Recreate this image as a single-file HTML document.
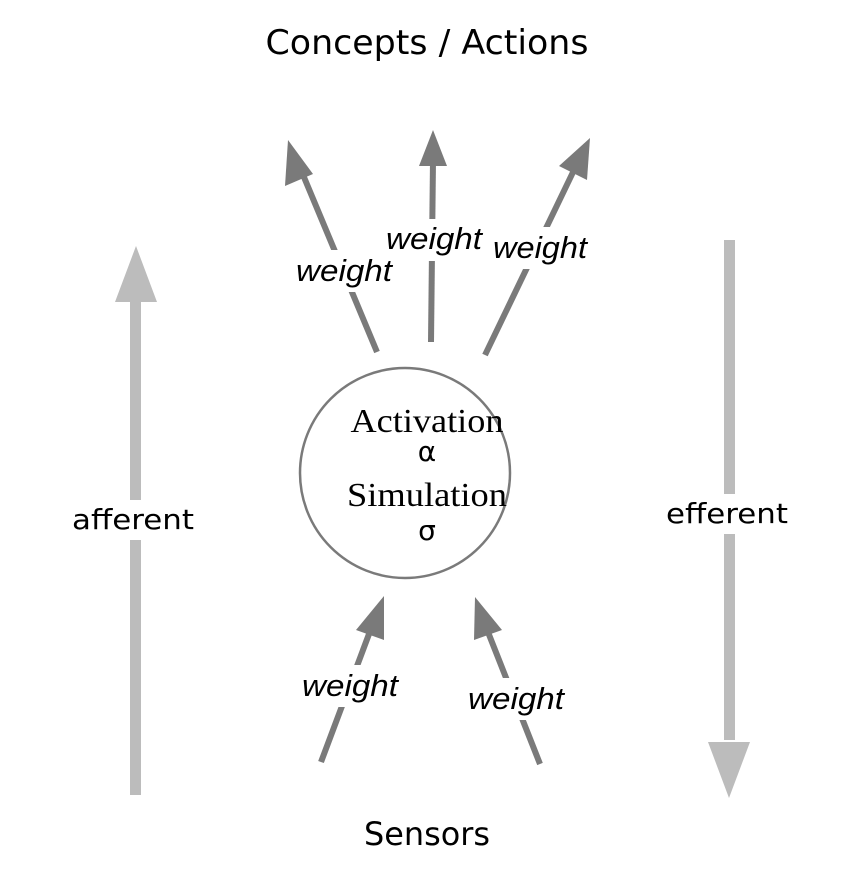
<!DOCTYPE html>
<html><head><style>body{margin:0;background:#fff}</style></head><body>
<svg width="868" height="868" viewBox="0 0 868 868" xmlns="http://www.w3.org/2000/svg">
<g fill="#bcbcbc">
<rect x="130" y="300" width="11" height="495"/>
<polygon points="136,246 157,302 115,302"/>
<rect x="724" y="240" width="11" height="500"/>
<polygon points="729,798 750,742 708,742"/>
</g>
<g stroke="#7a7a7a" stroke-width="6" fill="none">
<line x1="377" y1="352" x2="301" y2="170"/>
<line x1="431" y1="342" x2="433" y2="160"/>
<line x1="485" y1="355" x2="575" y2="168"/>
<line x1="321" y1="762" x2="372" y2="626"/>
<line x1="540" y1="764" x2="486" y2="627"/>
</g>
<g fill="#7a7a7a">
<polygon points="288,140 313,174 285,186"/>
<polygon points="433,130 447,166 419,166"/>
<polygon points="590,138 587,180 559,166"/>
<polygon points="384,596 384,640 356,630"/>
<polygon points="475,597 502,630 474,640"/>
</g>
<circle cx="405" cy="473" r="105" fill="#fff" stroke="#7a7a7a" stroke-width="2.5"/>
<g font-family="Liberation Sans, sans-serif" font-style="italic" font-size="31" fill="#000" text-anchor="middle">
<rect x="294" y="250" width="102" height="42" fill="#fff"/>
<text x="344" y="281" textLength="96" lengthAdjust="spacingAndGlyphs">weight</text>
<rect x="383" y="219" width="102" height="42" fill="#fff"/>
<text x="434" y="249" textLength="96" lengthAdjust="spacingAndGlyphs">weight</text>
<rect x="490" y="227" width="102" height="42" fill="#fff"/>
<text x="540" y="258" textLength="94" lengthAdjust="spacingAndGlyphs">weight</text>
<rect x="298" y="665" width="102" height="42" fill="#fff"/>
<text x="350" y="696" textLength="96" lengthAdjust="spacingAndGlyphs">weight</text>
<rect x="464" y="678" width="102" height="42" fill="#fff"/>
<text x="516" y="709" textLength="96" lengthAdjust="spacingAndGlyphs">weight</text>
</g>
<g font-family="DejaVu Sans, sans-serif" fill="#000" text-anchor="middle">
<text x="427" y="54" font-size="34" textLength="323" lengthAdjust="spacingAndGlyphs">Concepts / Actions</text>
<text x="427" y="845" font-size="32" textLength="126" lengthAdjust="spacingAndGlyphs">Sensors</text>
<rect x="70" y="500" width="128" height="40" fill="#fff"/>
<text x="133" y="529" font-size="28" textLength="122" lengthAdjust="spacingAndGlyphs">afferent</text>
<rect x="662" y="494" width="130" height="40" fill="#fff"/>
<text x="727" y="523" font-size="28" textLength="122" lengthAdjust="spacingAndGlyphs">efferent</text>
<text x="427" y="461" font-size="28">α</text>
<text x="427" y="540" font-size="28">σ</text>
</g>
<g font-family="Liberation Serif, serif" font-size="34" fill="#000" text-anchor="middle">
<text x="427" y="432" textLength="153" lengthAdjust="spacingAndGlyphs">Activation</text>
<text x="427" y="506" textLength="160" lengthAdjust="spacingAndGlyphs">Simulation</text>
</g>
</svg>
</body></html>
